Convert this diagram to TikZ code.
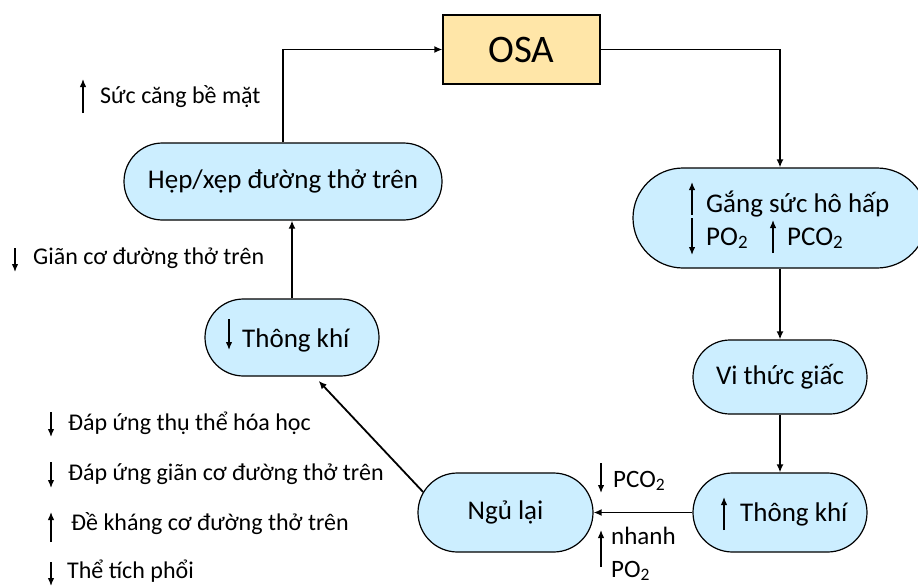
\documentclass[tikz,border=0pt]{standalone}
\usepackage{fontspec}
\setmainfont{Carlito}
\usetikzlibrary{arrows.meta,shapes.misc}
\definecolor{pillfill}{RGB}{204,238,255}
\definecolor{osafill}{RGB}{255,230,168}
\begin{document}
\begin{tikzpicture}[x=1pt,y=-1pt,
  pill/.style={rounded rectangle, draw=black, line width=1.2pt, fill=pillfill, inner sep=0pt,
               font=\fontsize{27}{30}\selectfont},
  conn/.style={line width=1.8pt, -{Latex[length=8pt,width=7pt]}},
  glyph/.style={line width=1.3pt, -{Latex[length=8pt,width=6.5pt]}},
  intext/.style={font=\fontsize{27}{30}\selectfont, anchor=base west, inner sep=0pt},
  lab/.style={font=\fontsize{24}{28}\selectfont, anchor=base west, inner sep=0pt},
  side/.style={font=\fontsize{25}{28}\selectfont, anchor=base west, inner sep=0pt}]
\useasboundingbox (0,0) rectangle (918,586);

% boxes of the cycle
\node[draw=black, line width=1.2pt, fill=osafill, minimum width=157pt, minimum height=69pt,
      inner sep=0pt, font=\fontsize{39}{42}\selectfont] (osa) at (521.5,49.5) {OSA};
\node[pill, minimum width=318pt, minimum height=77pt] (hep) at (283,181.5) {Hẹp/xẹp đường thở trên};
\node[pill, minimum width=294pt, minimum height=100pt] (gang) at (780,218) {};
\node[pill, minimum width=174pt, minimum height=74pt] (vi) at (780,377) {Vi thức giấc};
\node[pill, minimum width=174pt, minimum height=79pt] (tkr) at (780,512.5) {};
\node[pill, minimum width=175pt, minimum height=79pt] (ngu) at (505.5,512.5) {Ngủ lại};
\node[pill, minimum width=174pt, minimum height=77pt] (tkl) at (292,337.5) {};

% texts inside the pills that carry an arrow mark
\node[intext] (gangA) at (706,212) {Gắng sức hô hấp};
\node[intext] (gangB) at (706,245) {PO\textsubscript{2}};
\node[intext] (gangC) at (787,245) {PCO\textsubscript{2}};
\node[intext] (tkrT) at (740,521) {Thông khí};
\node[intext] (tklT) at (242,347) {Thông khí};

\draw[glyph] (gangA.base west) ++(-14,3) -- ++(0,-33);
\draw[glyph] (gangB.base west) ++(-14,-27) -- ++(0,37);
\draw[glyph] (gangC.base west) ++(-14,8) -- ++(0,-33);
\draw[glyph] (tkrT.base west) ++(-16,9) -- ++(0,-33);
\draw[glyph] (tklT.base west) ++(-13,-28) -- ++(0,31);

% connectors
\draw[conn] (hep.north) |- (osa.west);
\draw[conn] (osa.east) -| (gang.north);
\draw[conn] (gang.south) -- (vi.north);
\draw[conn] (vi.south) -- (tkr.north);
\draw[conn] (tkr.west) -- (ngu.east);
\draw[conn, shorten >=6pt] (ngu.166) -- (tkl.-60);
\draw[conn] (tkl.north) -- (tkl.north |- hep.south);

% side notes
\node[lab] (suc) at (100,103) {Sức căng bề mặt};
\draw[glyph] (suc.base west) ++(-17,10) -- ++(0,-34);
\node[lab] (gian) at (33,264) {Giãn cơ đường thở trên};
\draw[glyph] (gian.base west) ++(-18,-16) -- ++(0,24);

\node[lab] (b1) at (68,430) {Đáp ứng thụ thể hóa học};
\draw[glyph] (b1.base west) ++(-17,-18) -- ++(0,25);
\node[lab] (b2) at (68,480) {Đáp ứng giãn cơ đường thở trên};
\draw[glyph] (b2.base west) ++(-17,-18) -- ++(0,26);
\node[lab] (b3) at (71,530) {Đề kháng cơ đường thở trên};
\draw[glyph] (b3.base west) ++(-20,12) -- ++(0,-30);
\node[lab] (b4) at (67,578) {Thể tích phổi};
\draw[glyph] (b4.base west) ++(-16,-16) -- ++(0,24);

\node[side] (pco) at (613,487) {PCO\textsubscript{2}};
\draw[glyph] (pco.base west) ++(-12,-24) -- ++(0,30);
\node[side] (nh) at (611,544) {nhanh};
\node[side] (po) at (611,577) {PO\textsubscript{2}};
\draw[glyph] (nh.base west) ++(-10,23) -- ++(0,-37);
\end{tikzpicture}
\end{document}
